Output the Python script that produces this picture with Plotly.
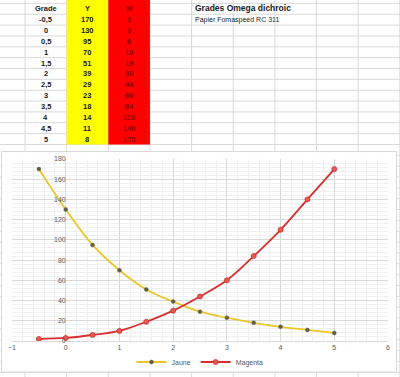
import plotly.graph_objects as go

# ---- data ----
grades = [-0.5, 0, 0.5, 1, 1.5, 2, 2.5, 3, 3.5, 4, 4.5, 5]
jaune = [170, 130, 95, 70, 51, 39, 29, 23, 18, 14, 11, 8]
magenta = [2, 3, 6, 10, 19, 30, 44, 60, 84, 110, 140, 170]
col_headers = ["Grade", "Y", "M"]
title_text = "Grades Omega dichroic"
subtitle_text = "Papier Fomaspeed RC 311"
x_ticks = [-1, 0, 1, 2, 3, 4, 5, 6]
y_ticks = [0, 20, 40, 60, 80, 100, 120, 140, 160, 180]

W, H = 400, 377
FONT = "Liberation Sans, Arial, sans-serif"

def px(x):
    return x / W

def py(y):
    return 1 - y / H

# spreadsheet geometry
col0, colw = 25.0, 41.65
row0, rowh = 3.4, 10.85
grid_col = "#D9D9D9"

shapes = []
annotations = []

# spreadsheet gridlines
for k in range(10):
    x = col0 + colw * k
    shapes.append(dict(type="line", xref="paper", yref="paper", x0=px(x), x1=px(x),
                       y0=0, y1=1, line=dict(color=grid_col, width=1), layer="below"))
for k in range(36):
    y = row0 + rowh * k
    shapes.append(dict(type="line", xref="paper", yref="paper", x0=0, x1=1,
                       y0=py(y), y1=py(y), line=dict(color=grid_col, width=1), layer="below"))

n_rows = len(grades) + 1
table_bottom = row0 + rowh * n_rows
# coloured columns (Y yellow, M red)
for ci, color in [(1, "#FFFF00"), (2, "#FF0000")]:
    x0 = col0 + colw * ci
    shapes.append(dict(type="rect", xref="paper", yref="paper", x0=px(x0), x1=px(x0 + colw),
                       y0=py(table_bottom), y1=1, fillcolor=color, line=dict(width=0), layer="below"))

# chart area box (white, covers spreadsheet grid)
shapes.append(dict(type="rect", xref="paper", yref="paper", x0=px(1.5), x1=px(396.5),
                   y0=py(372), y1=py(151.5), fillcolor="white",
                   line=dict(color="#D9D9D9", width=1), layer="below"))

def cell_text(text, ci, ri, color="#1A1A1A", size=7.5, bold=True):
    xc = col0 + colw * (ci + 0.5)
    yc = row0 + rowh * (ri + 0.5)
    annotations.append(dict(xref="paper", yref="paper", x=px(xc), y=py(yc),
                            text=f"<b>{text}</b>" if bold else text, showarrow=False,
                            xanchor="center", yanchor="middle",
                            font=dict(family=FONT, size=size, color=color)))

text_colors = ["#1A1A1A", "#1A1A1A", "#8E0000"]
for ci, h in enumerate(col_headers):
    cell_text(h, ci, 0, color=text_colors[ci])
for ri, (g, yv, mv) in enumerate(zip(grades, jaune, magenta), start=1):
    cell_text(f"{g:g}".replace(".", ","), 0, ri, color=text_colors[0])
    cell_text(str(yv), 1, ri, color=text_colors[1])
    cell_text(str(mv), 2, ri, color=text_colors[2])

annotations.append(dict(xref="paper", yref="paper", x=px(193), y=py(row0 + rowh * 0.5 - 1),
                        text=f"<b>{title_text}</b>", showarrow=False, xanchor="left",
                        yanchor="middle", font=dict(family=FONT, size=8.5, color="#1A1A1A")))
annotations.append(dict(xref="paper", yref="paper", x=px(193), y=py(row0 + rowh * 1.5),
                        text=subtitle_text, showarrow=False, xanchor="left",
                        yanchor="middle", font=dict(family=FONT, size=7, color="#262626")))

# ---- chart ----
fig = go.Figure()
fig.add_trace(go.Scatter(
    x=grades, y=jaune, name="Jaune", mode="lines+markers",
    line=dict(color="#EBC62A", width=1.8, shape="spline"),
    marker=dict(size=4, color="#5E5E4A", line=dict(color="#6E6A40", width=0.5)),
))
fig.add_trace(go.Scatter(
    x=grades, y=magenta, name="Magenta", mode="lines+markers",
    line=dict(color="#D92E2E", width=1.8, shape="spline"),
    marker=dict(size=5, color="#E85A50", line=dict(color="#C83030", width=0.8)),
))

xdom = [px(12), px(388)]
ydom = [py(341), py(159)]
xr = [-1, 6]
ypos = xdom[0] + (0 - xr[0]) / (xr[1] - xr[0]) * (xdom[1] - xdom[0])

fig.update_layout(
    width=W, height=H,
    margin=dict(l=0, r=0, t=0, b=0, autoexpand=False),
    paper_bgcolor="white",
    plot_bgcolor="rgba(0,0,0,0)",
    showlegend=True,
    legend=dict(orientation="h", x=0.5, xanchor="center", y=py(362), yanchor="middle",
                font=dict(family=FONT, size=7, color="#595959"), bgcolor="rgba(0,0,0,0)",
                itemwidth=30),
    xaxis=dict(domain=xdom, range=xr, tickvals=x_ticks, showgrid=True, automargin=False,
               gridcolor="#D9D9D9", gridwidth=1, zeroline=False,
               showline=True, linecolor="#D9D9D9", mirror=False,
               minor=dict(dtick=0.2, showgrid=True, gridcolor="#F0F0F0", gridwidth=1),
               tickfont=dict(family=FONT, size=7, color="#595959"), ticks=""),
    yaxis=dict(domain=ydom, range=[0, 180], tickvals=y_ticks, showgrid=True, automargin=False,
               gridcolor="#D9D9D9", gridwidth=1, zeroline=False, showline=False,
               anchor="free", position=ypos,
               minor=dict(dtick=4, showgrid=True, gridcolor="#F0F0F0", gridwidth=1),
               tickfont=dict(family=FONT, size=7, color="#595959"), ticks=""),
    shapes=shapes,
    annotations=annotations,
)

fig.write_html("out.html", config={"displayModeBar": False},
               post_script="document.body.style.margin='0';document.body.style.overflow='hidden';")
